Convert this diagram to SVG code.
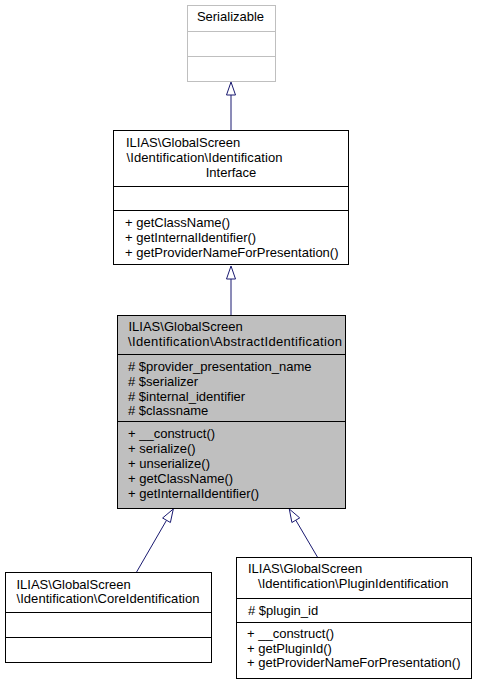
<svg xmlns="http://www.w3.org/2000/svg" width="477" height="684" viewBox="0 0 477 684">
<style>
text{font-family:"Liberation Sans",Arial,Helvetica,sans-serif;font-size:13px;fill:#000}
.box{fill:#fff;stroke:#000;stroke-width:1}
.grey{fill:#fff;stroke:#bfbfbf;stroke-width:1}
.hl{fill:#bfbfbf;stroke:#000;stroke-width:1}
.ln{stroke:#000;stroke-width:1}
.gl{stroke:#bfbfbf;stroke-width:1}
.edge{fill:none;stroke:#191970;stroke-width:1}
.ah{fill:#fff;stroke:#191970;stroke-width:1}
.c{text-anchor:middle}
</style>
<rect width="477" height="684" fill="#fff"/>
<g id="connectors">
<path class="edge" d="M231,95 V130"/>
<polygon class="ah" points="231,82 226.5,95 235.5,95"/>
<path class="edge" d="M231,279 V315"/>
<polygon class="ah" points="231,266 226.5,279 235.5,279"/>
<path class="edge" d="M166.5,520.3 L136,573"/>
<polygon class="ah" points="173.3,509 162.6,518 170.4,522.5"/>
<path class="edge" d="M295.8,520.2 L318,558"/>
<polygon class="ah" points="289.3,509 299.7,517.9 291.9,522.5"/>
</g>
<g id="Serializable">
<rect class="grey" x="187.5" y="5.5" width="88" height="76"/>
<line class="gl" x1="187.5" y1="31.5" x2="275.5" y2="31.5"/>
<line class="gl" x1="187.5" y1="56.5" x2="275.5" y2="56.5"/>
<text class="c" x="230.5" y="21">Serializable</text>
</g>
<g id="IdentificationInterface">
<rect class="box" x="113.5" y="130.5" width="235" height="134"/>
<line class="ln" x1="113.5" y1="186.5" x2="348.5" y2="186.5"/>
<line class="ln" x1="113.5" y1="210.5" x2="348.5" y2="210.5"/>
<text x="126" y="147">ILIAS\GlobalScreen</text>
<text x="126.5" y="162" textLength="156">\Identification\Identification</text>
<text class="c" x="231" y="176.5">Interface</text>
<text x="125" y="227">+ getClassName()</text>
<text x="125" y="242">+ getInternalIdentifier()</text>
<text x="125" y="256.5">+ getProviderNameForPresentation()</text>
</g>
<g id="AbstractIdentification">
<rect class="hl" x="117.5" y="315.5" width="228" height="193"/>
<line class="ln" x1="117.5" y1="354.5" x2="345.5" y2="354.5"/>
<line class="ln" x1="117.5" y1="421.5" x2="345.5" y2="421.5"/>
<text x="128.5" y="330.5">ILIAS\GlobalScreen</text>
<text x="128" y="345.5" textLength="214">\Identification\AbstractIdentification</text>
<text x="128" y="371"># $provider_presentation_name</text>
<text x="128" y="386"># $serializer</text>
<text x="128" y="400.5"># $internal_identifier</text>
<text x="128" y="415"># $classname</text>
<text x="128" y="438">+ __construct()</text>
<text x="128" y="453">+ serialize()</text>
<text x="128" y="468">+ unserialize()</text>
<text x="128" y="483">+ getClassName()</text>
<text x="128" y="498">+ getInternalIdentifier()</text>
</g>
<g id="CoreIdentification">
<rect class="box" x="5.5" y="572.5" width="206" height="90"/>
<line class="ln" x1="5.5" y1="612.5" x2="211.5" y2="612.5"/>
<line class="ln" x1="5.5" y1="637.5" x2="211.5" y2="637.5"/>
<text x="16.5" y="588.5">ILIAS\GlobalScreen</text>
<text x="16.5" y="602.5" textLength="183">\Identification\CoreIdentification</text>
</g>
<g id="PluginIdentification">
<rect class="box" x="236.5" y="557.5" width="235" height="121"/>
<line class="ln" x1="236.5" y1="598.5" x2="471.5" y2="598.5"/>
<line class="ln" x1="236.5" y1="622.5" x2="471.5" y2="622.5"/>
<text x="248" y="572.5">ILIAS\GlobalScreen</text>
<text x="258" y="587.5" textLength="190.5">\Identification\PluginIdentification</text>
<text x="248" y="614.5"># $plugin_id</text>
<text x="247" y="638">+ __construct()</text>
<text x="247" y="652.5">+ getPluginId()</text>
<text x="247" y="667">+ getProviderNameForPresentation()</text>
</g>
</svg>
